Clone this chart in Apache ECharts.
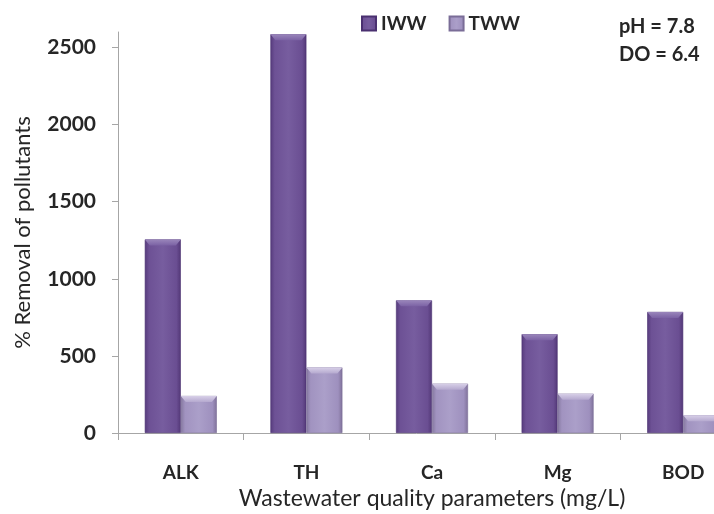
<!DOCTYPE html>
<html>
<head>
<meta charset="utf-8">
<script src="https://cdn.jsdelivr.net/npm/echarts@6/dist/echarts.min.js"></script>
<style>
  html, body { margin: 0; padding: 0; background: #ffffff; }
  #chart { width: 714px; height: 514px; }
</style>
</head>
<body>
<div id="chart"></div>
<script>
// Wastewater parameters and % removal for the two effluents
const categories = ['ALK', 'TH', 'Ca', 'Mg', 'BOD'];
const iwwValues = [1255, 2585, 860, 640, 785];
const twwValues = [240, 425, 320, 255, 115];
const yTicks = [0, 500, 1000, 1500, 2000, 2500];
const seriesNames = ['IWW', 'TWW'];
const noteLines = ['pH = 7.8', 'DO = 6.4'];

const FONT = 'Lato, "Open Sans", sans-serif';
const TEXT = '#262626';
const AXIS = '#a6a6a6';
const BAR_W = 36;

function sideShade(stops) {
  return {
    type: 'linear', x: 0, y: 0, x2: 1, y2: 0,
    colorStops: stops.map((c, i) => ({ offset: [0, 0.12, 0.5, 0.88, 1][i], color: c }))
  };
}
const iwwFill = sideShade(['#563b7c', '#6d5195', '#775d9f', '#6a4e92', '#523776']);
const twwFill = sideShade(['#85789f', '#a193c0', '#ab9fc9', '#9e90be', '#7f7199']);

// bevelled cap drawn on top of each bar
function bevel(shift, light, mid) {
  return function (params, api) {
    const top = api.coord([api.value(0), api.value(1)]);
    const cx = top[0] + shift;
    const x0 = cx - BAR_W / 2, x1 = cx + BAR_W / 2, y = top[1], h = 6, inset = 5;
    return {
      type: 'polygon',
      shape: { points: [[x0, y], [x1, y], [x1 - inset, y + h], [x0 + inset, y + h]] },
      style: {
        fill: { type: 'linear', x: 0, y: 0, x2: 0, y2: 1,
                colorStops: [{ offset: 0, color: light }, { offset: 1, color: mid }] }
      },
      silent: true
    };
  };
}

const chart = echarts.init(document.getElementById('chart'), null, { renderer: 'canvas' });
chart.setOption({
  animation: false,
  backgroundColor: '#ffffff',
  // plot area runs past the right edge of the canvas
  grid: { left: 118, width: 628, top: 32, bottom: 81, containLabel: false, outerBoundsMode: 'none' },
  legend: {
    data: seriesNames,
    left: 356, top: 9,
    itemWidth: 14, itemHeight: 14, itemGap: 22,
    icon: 'rect',
    textStyle: { fontFamily: FONT, fontWeight: 'bold', fontSize: 19, color: TEXT, padding: [0, 0, 0, 0] },
    selectedMode: false
  },
  xAxis: {
    type: 'category',
    data: categories,
    boundaryGap: true,
    axisLine: { lineStyle: { color: AXIS, width: 1 } },
    axisTick: { show: true, length: 7, alignWithLabel: false, lineStyle: { color: AXIS } },
    axisLabel: { margin: 30, fontFamily: FONT, fontWeight: 'bold', fontSize: 19, color: TEXT },
    name: 'Wastewater quality parameters (mg/L)',
    nameLocation: 'middle',
    nameGap: 54,
    nameTextStyle: { fontFamily: FONT, fontSize: 23, color: TEXT }
  },
  yAxis: {
    type: 'value',
    min: 0, max: 2600, interval: 500,
    splitLine: { show: false },
    axisLine: { show: true, lineStyle: { color: AXIS, width: 1 } },
    axisTick: { show: true, length: 6, lineStyle: { color: AXIS }, customValues: yTicks },
    axisLabel: {
      margin: 22, fontFamily: FONT, fontWeight: 'bold', fontSize: 21, color: TEXT,
      customValues: yTicks, formatter: v => String(v)
    },
    name: '% Removal of pollutants',
    nameLocation: 'middle',
    nameGap: 84,
    nameRotate: 90,
    nameTextStyle: { fontFamily: FONT, fontSize: 22, color: TEXT }
  },
  series: [
    {
      name: seriesNames[0], type: 'bar', data: iwwValues,
      barWidth: BAR_W, barGap: '0%',
      itemStyle: { color: iwwFill, borderColor: '#4a3070', borderWidth: 0.6 }
    },
    {
      name: seriesNames[1], type: 'bar', data: twwValues,
      barWidth: BAR_W, barGap: '0%',
      itemStyle: { color: twwFill, borderColor: '#7a6d97', borderWidth: 0.6 }
    },
    {
      type: 'custom', data: iwwValues.map((v, i) => [i, v]),
      renderItem: bevel(-BAR_W / 2, '#9a86bb', '#7b62a4'), z: 5
    },
    {
      type: 'custom', data: twwValues.map((v, i) => [i, v]),
      renderItem: bevel(BAR_W / 2, '#d8d0e8', '#b5a9cf'), z: 5
    }
  ],
  graphic: noteLines.map((t, i) => ({
    type: 'text', left: 619, top: 17 + i * 28,
    style: { text: t, fontFamily: FONT, fontWeight: 'bold', fontSize: 20, fill: TEXT }
  }))
});
</script>
</body>
</html>
